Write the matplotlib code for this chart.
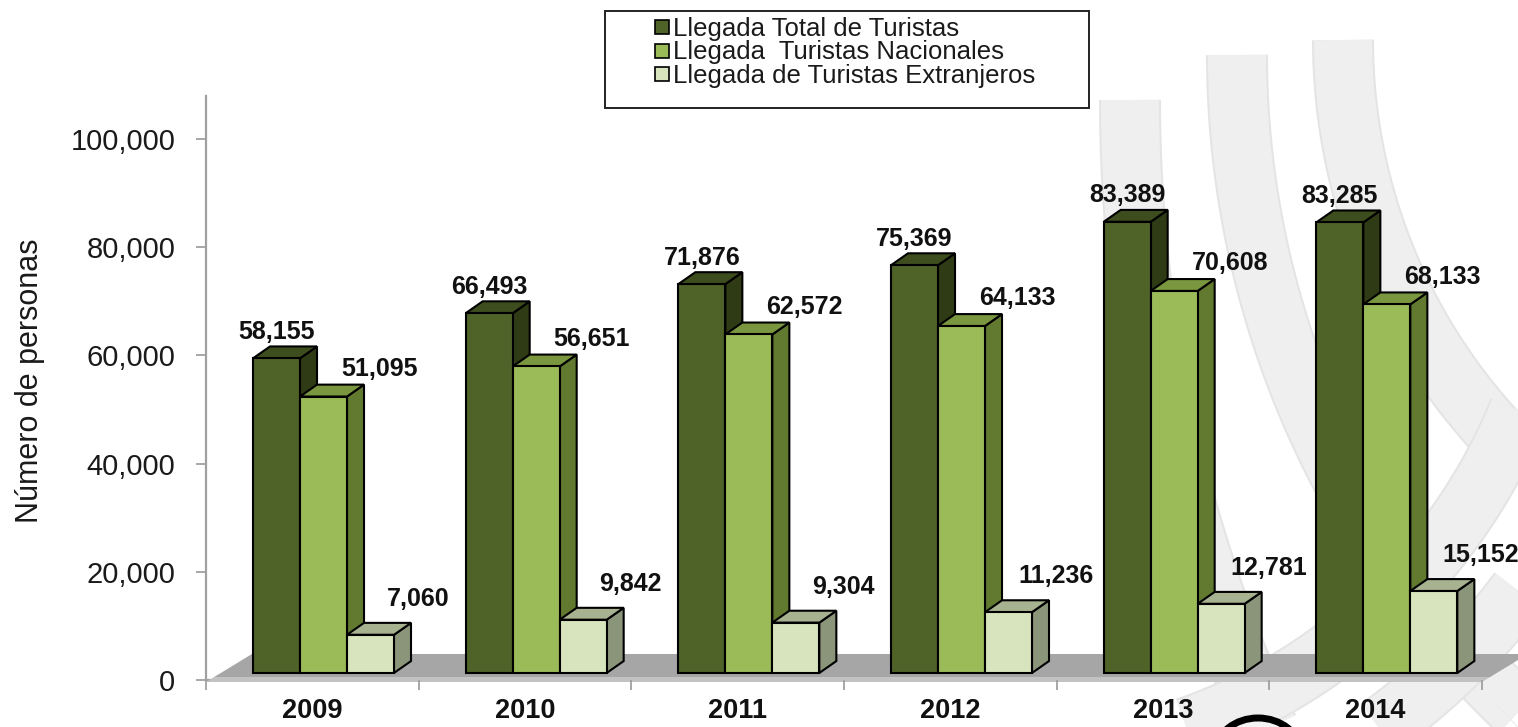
import numpy as np
import matplotlib
matplotlib.use('Agg')
import matplotlib.pyplot as plt
from matplotlib.patches import Polygon, Rectangle, Ellipse
from matplotlib.ticker import FuncFormatter

plt.rcParams['font.family'] = ['Liberation Sans', 'DejaVu Sans']

# --- data ---
years = ['2009', '2010', '2011', '2012', '2013', '2014']
total = [58155, 66493, 71876, 75369, 83389, 83285]
nacionales = [51095, 56651, 62572, 64133, 70608, 68133]
extranjeros = [7060, 9842, 9304, 11236, 12781, 15152]
series_names = ['Llegada Total de Turistas',
                'Llegada  Turistas Nacionales',
                'Llegada de Turistas Extranjeros']
y_ticks = [0, 20000, 40000, 60000, 80000, 100000]

# --- look of the 3D bars ---
FRONT = ['#4f6228', '#9bbb59', '#d7e4bd']
TOP = ['#3d4d1d', '#7a973f', '#a7b290']
SIDE = ['#2f3b14', '#627a30', '#8b957a']
LABEL_OFF = [(0, 19), (40, 20), (34, 26)]  # label nudge per series, points

BAR_W = 0.221      # bar width, category units
GROUP_OFF = 0.221  # gap from category start to first bar
DX, DY = 0.08, 2200  # depth of the bars
BASE = 1300        # bars stand on the floor a bit above 0

W, H = 1518, 727
fig = plt.figure(figsize=(W / 100, H / 100), dpi=100)

# --- background watermark + legend, in pixel coordinates ---
bg = fig.add_axes([0, 0, 1, 1], zorder=0)
bg.set_xlim(0, W)
bg.set_ylim(H, 0)
bg.axis('off')


def band(cx, cy, r, a0, a1, width=60):
    t = np.radians(np.linspace(a0, a1, 300))
    x = cx + r * np.cos(t)
    y = cy + r * np.sin(t)
    bg.plot(x, y, color='#e4e4e4', lw=(width + 2) * 0.72, solid_capstyle='butt')
    bg.plot(x, y, color='#efefef', lw=(width - 2) * 0.72, solid_capstyle='butt')


band(2630, 100, 1500, 180, 150)
band(2142, 55, 905, 180, 128)
band(1922, 40, 579, 180, 95)
band(1000, 200, 560, 72, 8)
band(1000, 200, 650, 60, 30)
band(1000, 200, 740, 50, 36)
bg.add_patch(Ellipse((1258, 752), 84, 68, facecolor='#f4f4f4', edgecolor='black', lw=5, zorder=3))

# legend box drawn by hand to get the wide padding of the original
bg.add_patch(Rectangle((605, 11), 484, 97, facecolor='white', edgecolor='#222222', lw=1.4, zorder=3))
for k, name in enumerate(series_names):
    yc = 27 + k * 23.5
    bg.add_patch(Rectangle((655, yc - 7), 14, 14, facecolor=FRONT[k], edgecolor='black', lw=1.2, zorder=4))
    bg.text(673, yc + 9, name, fontsize=18.5, color='#1a1a1a', va='baseline', ha='left', zorder=4)

# --- main axes ---
L, R, Y0, YT = 206, 1482, 680, 95.7
ax = fig.add_axes([L / W, (H - Y0) / H, (R - L) / W, (Y0 - YT) / H], zorder=2)
ax.patch.set_alpha(0)
ax.set_xlim(0, len(years))
ax.set_ylim(0, 108000)

# floor
n = len(years)
fl_bot, fl_mid, fl_top, fl_shift = -370, 555, 4806, 0.216
s = fl_shift * (fl_mid - fl_bot) / (fl_top - fl_bot)
ax.add_patch(Polygon([(s, fl_mid), (n + s, fl_mid), (n + fl_shift, fl_top), (fl_shift, fl_top)],
                     closed=True, facecolor='#a6a6a6', edgecolor='none', clip_on=False, zorder=1))
ax.add_patch(Polygon([(0, fl_bot), (n, fl_bot), (n + s, fl_mid), (s, fl_mid)],
                     closed=True, facecolor='#c2c2c2', edgecolor='none', clip_on=False, zorder=1))

# 3D bars
series = [total, nacionales, extranjeros]
for i in range(n):
    for j, vals in enumerate(series):
        v = vals[i]
        x0 = i + GROUP_OFF + j * BAR_W
        x1 = x0 + BAR_W
        y0, y1 = BASE, BASE + v
        kw = dict(closed=True, edgecolor='black', lw=1.5, joinstyle='miter', clip_on=False, zorder=3)
        ax.add_patch(Polygon([(x1, y0), (x1 + DX, y0 + DY), (x1 + DX, y1 + DY), (x1, y1)],
                             facecolor=SIDE[j], **kw))
        ax.add_patch(Polygon([(x0, y1), (x1, y1), (x1 + DX, y1 + DY), (x0 + DX, y1 + DY)],
                             facecolor=TOP[j], **kw))
        ax.add_patch(Polygon([(x0, y0), (x1, y0), (x1, y1), (x0, y1)],
                             facecolor=FRONT[j], **kw))
        ax.annotate(f'{v:,}', xy=((x0 + x1) / 2, y1), xytext=LABEL_OFF[j],
                    textcoords='offset points', ha='center', va='center',
                    fontsize=18, fontweight='bold', color='#111111',
                    annotation_clip=False, zorder=4)

# axes styling
for side in ['top', 'right']:
    ax.spines[side].set_visible(False)
for side in ['left', 'bottom']:
    ax.spines[side].set_color('#a0a0a0')
    ax.spines[side].set_linewidth(1.6)
ax.spines['bottom'].set_zorder(0.5)

ax.set_yticks(y_ticks)
ax.yaxis.set_major_formatter(FuncFormatter(lambda v, p: f'{int(v):,}'))
ax.tick_params(axis='y', length=7, width=1.3, color='#a0a0a0', labelsize=21,
               labelcolor='#1a1a1a', pad=15)

ax.set_xticks(np.arange(n + 1))
ax.set_xticklabels([])
ax.set_xticks(np.arange(n) + 0.5, minor=True)
ax.set_xticklabels(years, minor=True, fontsize=19.5, fontweight='bold', color='#111111')
ax.tick_params(axis='x', which='major', length=7, width=1.3, color='#a0a0a0')
ax.tick_params(axis='x', which='minor', length=0, pad=13)

ax.set_ylabel('Número de personas', fontsize=22, color='#1a1a1a')
ax.yaxis.set_label_coords(-0.126, 0.512)

fig.savefig('out.png', dpi=100, facecolor='white')
